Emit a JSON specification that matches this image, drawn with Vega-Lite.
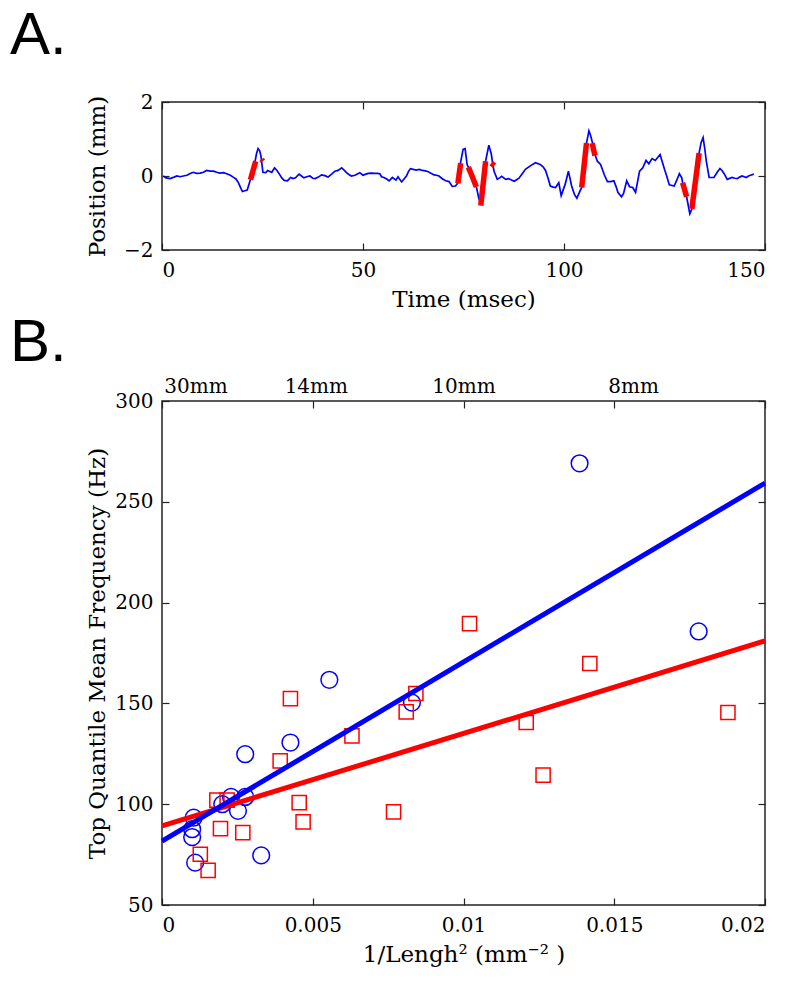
{
  "$schema": "https://vega.github.io/schema/vega-lite/v6.json",
  "background": "white",
  "padding": {"left": 9, "top": 5, "right": 5, "bottom": 5},
  "config": {
    "font": "DejaVu Serif",
    "view": {"stroke": "#222222", "strokeWidth": 1.5},
    "axis": {"domain": false, "grid": false, "labelFont": "DejaVu Serif", "titleFont": "DejaVu Serif", "labelFontSize": 20, "titleFontSize": 23, "labelColor": "#000000", "titleColor": "#000000", "titleFontWeight": "normal", "tickColor": "#222222", "tickSize": -7, "tickWidth": 1.2},
    "title": {"font": "Liberation Sans", "fontSize": 60, "fontWeight": "normal", "anchor": "start", "frame": "group", "baseline": "alphabetic", "color": "#000000"},
    "concat": {"spacing": 0}
  },
  "datasets": {
    "trace": [
      {"t":0.3,"pos":0.0},{"t":1,"pos":-0.05},{"t":2,"pos":-0.07},{"t":3,"pos":-0.03},{"t":3.7,"pos":0},{"t":4.5,"pos":-0.02},{"t":5.3,"pos":0},{"t":6.2,"pos":0.02},{"t":7,"pos":0.07},{"t":7.8,"pos":0.1},{"t":8.6,"pos":0.07},{"t":9.5,"pos":0.08},{"t":10.3,"pos":0.1},{"t":11.1,"pos":0.15},{"t":12,"pos":0.13},{"t":12.8,"pos":0.13},{"t":13.6,"pos":0.1},{"t":14.4,"pos":0.08},{"t":15.3,"pos":0.09},{"t":16.1,"pos":0.06},{"t":17,"pos":0.02},{"t":17.7,"pos":-0.03},{"t":18.4,"pos":-0.08},{"t":19.0,"pos":-0.18},{"t":19.6,"pos":-0.33},{"t":20.0,"pos":-0.42},{"t":20.6,"pos":-0.4},{"t":21.2,"pos":-0.38},{"t":21.7,"pos":-0.2},{"t":22.0,"pos":-0.09},{"t":23.1,"pos":0.36},{"t":23.5,"pos":0.6},{"t":23.9,"pos":0.74},{"t":24.3,"pos":0.68},{"t":24.6,"pos":0.55},{"t":25.1,"pos":0.1},{"t":25.8,"pos":0.09},{"t":26.3,"pos":0.15},{"t":26.7,"pos":0.13},{"t":27.3,"pos":0.1},{"t":28,"pos":0.22},{"t":28.6,"pos":0.15},{"t":29.2,"pos":0.05},{"t":29.8,"pos":-0.05},{"t":30.4,"pos":-0.12},{"t":31.2,"pos":-0.13},{"t":32.0,"pos":-0.04},{"t":32.6,"pos":-0.07},{"t":33.2,"pos":-0.05},{"t":34.1,"pos":0.05},{"t":34.7,"pos":0},{"t":35.3,"pos":-0.05},{"t":36,"pos":-0.02},{"t":36.8,"pos":0},{"t":37.5,"pos":-0.06},{"t":38.1,"pos":-0.07},{"t":38.9,"pos":-0.03},{"t":39.7,"pos":0.03},{"t":40.5,"pos":0.01},{"t":41.3,"pos":-0.03},{"t":42.2,"pos":0.05},{"t":43.0,"pos":0.13},{"t":43.8,"pos":0.15},{"t":44.7,"pos":0.22},{"t":45.3,"pos":0.16},{"t":45.9,"pos":0.09},{"t":46.5,"pos":0.04},{"t":47.1,"pos":0},{"t":48,"pos":0.02},{"t":49.2,"pos":0.09},{"t":50,"pos":0.02},{"t":50.7,"pos":0.05},{"t":51.3,"pos":0.07},{"t":52.1,"pos":0.08},{"t":52.9,"pos":0.07},{"t":53.5,"pos":0.07},{"t":54.2,"pos":0.06},{"t":54.6,"pos":-0.02},{"t":55.2,"pos":-0.04},{"t":55.9,"pos":-0.08},{"t":56.5,"pos":-0.13},{"t":57.3,"pos":-0.04},{"t":58.2,"pos":-0.11},{"t":58.7,"pos":-0.02},{"t":59.6,"pos":-0.16},{"t":60.2,"pos":-0.08},{"t":60.8,"pos":0},{"t":61.3,"pos":0.12},{"t":61.8,"pos":0.2},{"t":62.5,"pos":0.18},{"t":63.2,"pos":0.16},{"t":64,"pos":0.18},{"t":64.8,"pos":0.15},{"t":65.5,"pos":0.14},{"t":66.1,"pos":0.12},{"t":67,"pos":0.07},{"t":67.7,"pos":0.03},{"t":68.3,"pos":0.02},{"t":68.9,"pos":0},{"t":69.8,"pos":-0.08},{"t":70.6,"pos":-0.13},{"t":71.4,"pos":-0.15},{"t":72.2,"pos":-0.28},{"t":73.0,"pos":-0.27},{"t":73.5,"pos":-0.2},{"t":74.2,"pos":0.33},{"t":74.9,"pos":0.72},{"t":75.4,"pos":0.74},{"t":75.9,"pos":0.31},{"t":76.2,"pos":0.24},{"t":77.2,"pos":0.0},{"t":78.2,"pos":-0.29},{"t":78.8,"pos":-0.6},{"t":79.4,"pos":-0.78},{"t":80.0,"pos":-0.2},{"t":80.5,"pos":0.4},{"t":81.3,"pos":0.83},{"t":81.9,"pos":0.6},{"t":82.3,"pos":0.31},{"t":82.6,"pos":0.13},{"t":83.4,"pos":-0.09},{"t":84,"pos":-0.05},{"t":84.5,"pos":-0.01},{"t":85.5,"pos":-0.09},{"t":86.2,"pos":-0.07},{"t":86.8,"pos":-0.1},{"t":87.6,"pos":-0.14},{"t":88.2,"pos":-0.1},{"t":88.8,"pos":-0.06},{"t":89.6,"pos":0.06},{"t":90.4,"pos":0.18},{"t":91.7,"pos":0.28},{"t":92.9,"pos":0.36},{"t":94.1,"pos":0.31},{"t":94.8,"pos":0.25},{"t":95.4,"pos":0.15},{"t":96.0,"pos":-0.05},{"t":96.6,"pos":-0.27},{"t":97.3,"pos":-0.3},{"t":97.9,"pos":-0.31},{"t":98.7,"pos":-0.18},{"t":99.3,"pos":-0.53},{"t":100.3,"pos":-0.22},{"t":101.1,"pos":0.13},{"t":101.9,"pos":-0.27},{"t":102.6,"pos":-0.5},{"t":103.2,"pos":-0.6},{"t":103.8,"pos":-0.45},{"t":104.4,"pos":-0.31},{"t":105.6,"pos":0.89},{"t":106.2,"pos":1.22},{"t":106.6,"pos":1.1},{"t":107.1,"pos":0.89},{"t":107.7,"pos":0.58},{"t":108.3,"pos":0.4},{"t":109.1,"pos":0.31},{"t":110,"pos":0.04},{"t":110.8,"pos":-0.15},{"t":111.6,"pos":-0.15},{"t":112.4,"pos":-0.13},{"t":113.0,"pos":-0.3},{"t":113.4,"pos":-0.44},{"t":114.3,"pos":-0.56},{"t":114.8,"pos":-0.48},{"t":115.6,"pos":-0.13},{"t":116.3,"pos":-0.29},{"t":117.1,"pos":-0.31},{"t":117.8,"pos":-0.44},{"t":118.8,"pos":0.13},{"t":119.6,"pos":0.22},{"t":120.4,"pos":0.42},{"t":121.1,"pos":0.33},{"t":121.9,"pos":0.47},{"t":122.7,"pos":0.42},{"t":123.3,"pos":0.5},{"t":123.9,"pos":0.58},{"t":124.4,"pos":0.4},{"t":125,"pos":0.18},{"t":125.6,"pos":-0.02},{"t":126.2,"pos":-0.24},{"t":127.4,"pos":-0.27},{"t":128.1,"pos":-0.1},{"t":128.7,"pos":0.06},{"t":129.3,"pos":-0.05},{"t":129.5,"pos":-0.18},{"t":130.5,"pos":-0.56},{"t":131.3,"pos":-1.02},{"t":131.8,"pos":-0.89},{"t":133.6,"pos":0.62},{"t":134.1,"pos":0.9},{"t":134.6,"pos":1.04},{"t":135.0,"pos":0.75},{"t":135.4,"pos":0.4},{"t":136.1,"pos":-0.04},{"t":137.3,"pos":-0.04},{"t":138.1,"pos":0.1},{"t":138.8,"pos":0.2},{"t":139.3,"pos":0.15},{"t":139.8,"pos":0.07},{"t":140.6,"pos":-0.09},{"t":141.8,"pos":-0.04},{"t":142.5,"pos":-0.06},{"t":143.1,"pos":-0.07},{"t":143.7,"pos":-0.03},{"t":144.3,"pos":0},{"t":145.3,"pos":-0.04},{"t":145.9,"pos":0},{"t":146.4,"pos":0.02},{"t":147.2,"pos":0.05}
    ],
    "segments": [
      {"seg":1,"t":22.0,"pos":-0.1},{"seg":1,"t":23.3,"pos":0.4},
      {"seg":2,"t":24.75,"pos":0.45},{"seg":2,"t":25.1,"pos":0.4},
      {"seg":3,"t":73.6,"pos":-0.2},{"seg":3,"t":74.3,"pos":0.35},
      {"seg":4,"t":76.2,"pos":0.24},{"seg":4,"t":77.2,"pos":-0.02},{"seg":4,"t":78.2,"pos":-0.3},
      {"seg":5,"t":79.3,"pos":-0.8},{"seg":5,"t":80.5,"pos":0.4},
      {"seg":6,"t":81.9,"pos":0.35},{"seg":6,"t":82.7,"pos":0.28},
      {"seg":7,"t":104.4,"pos":-0.31},{"seg":7,"t":105.6,"pos":0.89},
      {"seg":8,"t":107.0,"pos":0.89},{"seg":8,"t":107.7,"pos":0.55},
      {"seg":9,"t":129.5,"pos":-0.18},{"seg":9,"t":130.5,"pos":-0.56},
      {"seg":10,"t":131.8,"pos":-0.89},{"seg":10,"t":133.6,"pos":0.62}
    ],
    "points": [
      {"group":"G1","x":0.00276,"hz":124.8},{"group":"G1","x":0.00426,"hz":130.6},{"group":"G1","x":0.00105,"hz":93.3},{"group":"G1","x":0.001,"hz":87.6},{"group":"G1","x":0.001,"hz":83.7},{"group":"G1","x":0.0011,"hz":71},{"group":"G1","x":0.002,"hz":100},{"group":"G1","x":0.00229,"hz":103.6},{"group":"G1","x":0.00276,"hz":103.6},{"group":"G1","x":0.00252,"hz":96.7},{"group":"G1","x":0.00329,"hz":74.6},{"group":"G1","x":0.00555,"hz":161.7},{"group":"G1","x":0.00829,"hz":150.4},{"group":"G1","x":0.01385,"hz":269.1},{"group":"G1","x":0.0178,"hz":185.7},
      {"group":"G2","x":0.00392,"hz":121.5},{"group":"G2","x":0.00182,"hz":102},{"group":"G2","x":0.00216,"hz":102},{"group":"G2","x":0.00194,"hz":87.9},{"group":"G2","x":0.00268,"hz":85.9},{"group":"G2","x":0.00127,"hz":75.2},{"group":"G2","x":0.00153,"hz":67.2},{"group":"G2","x":0.00455,"hz":100.8},{"group":"G2","x":0.00468,"hz":91.2},{"group":"G2","x":0.00768,"hz":96.2},{"group":"G2","x":0.00426,"hz":152.4},{"group":"G2","x":0.0063,"hz":133.9},{"group":"G2","x":0.00842,"hz":154.9},{"group":"G2","x":0.0081,"hz":145.8},{"group":"G2","x":0.0102,"hz":189.6},{"group":"G2","x":0.01419,"hz":169.8},{"group":"G2","x":0.01208,"hz":140.5},{"group":"G2","x":0.01264,"hz":114.4},{"group":"G2","x":0.01877,"hz":145.5}
    ],
    "fits": [
      {"group":"G1","x":0,"hz":81.7},{"group":"G1","x":0.02,"hz":259.3},
      {"group":"G2","x":0,"hz":89.2},{"group":"G2","x":0.02,"hz":181}
    ]
  },
  "vconcat": [
    {
      "title": {"text": "A.", "dx": -152, "offset": 25},
      "width": 603,
      "height": 148,
      "layer": [
        {
          "data": {"name": "trace"},
          "mark": {"type": "line", "color": "#0000ff", "strokeWidth": 1.7},
          "encoding": {
            "x": {"field": "t", "type": "quantitative", "scale": {"domain": [0, 150], "nice": false}, "axis": {"values": [0, 50, 100, 150], "title": "Time (msec)", "labelPadding": 17, "titlePadding": 8}},
            "y": {"field": "pos", "type": "quantitative", "scale": {"domain": [-2, 2], "nice": false}, "axis": {"values": [-2, 0, 2], "title": "Position (mm)", "labelPadding": 16, "minExtent": 48, "maxExtent": 48, "titlePadding": 5}}
          }
        },
        {
          "data": {"name": "segments"},
          "mark": {"type": "line", "color": "#ff0000", "strokeWidth": 5.5, "strokeCap": "butt"},
          "encoding": {
            "x": {"field": "t", "type": "quantitative", "axis": {"orient": "top", "values": [0, 50, 100, 150], "labels": false, "title": null}},
            "y": {"field": "pos", "type": "quantitative", "axis": {"orient": "right", "values": [-2, 0, 2], "labels": false, "title": null}},
            "detail": {"field": "seg", "type": "nominal"}
          }
        }
      ],
      "resolve": {"axis": {"x": "independent", "y": "independent"}}
    },
    {
      "title": {"text": "B.", "dx": -152, "offset": 2},
      "width": 603,
      "height": 504,
      "layer": [
        {
          "data": {"name": "points"},
          "mark": {"type": "point", "filled": false, "strokeWidth": 1.5, "opacity": 1},
          "encoding": {
            "x": {"field": "x", "type": "quantitative", "scale": {"domain": [0, 0.02], "nice": false}, "axis": {"values": [0, 0.005, 0.01, 0.015, 0.02], "format": "~g", "title": "1/Lengh² (mm⁻² )", "labelPadding": 17, "titlePadding": 8}},
            "y": {"field": "hz", "type": "quantitative", "scale": {"domain": [50, 300], "nice": false, "zero": false}, "axis": {"values": [50, 100, 150, 200, 250, 300], "title": "Top Quantile Mean Frequency (Hz)", "labelPadding": 16, "minExtent": 48, "maxExtent": 48, "titlePadding": 5}},
            "color": {"field": "group", "type": "nominal", "scale": {"domain": ["G1", "G2"], "range": ["#0000ff", "#ff0000"]}, "legend": null},
            "shape": {"field": "group", "type": "nominal", "scale": {"domain": ["G1", "G2"], "range": ["circle", "square"]}, "legend": null},
            "size": {"field": "group", "type": "nominal", "scale": {"domain": ["G1", "G2"], "range": [280, 200]}, "legend": null}
          }
        },
        {
          "data": {"name": "fits"},
          "transform": [{"filter": "datum.group == 'G2'"}],
          "mark": {"type": "line", "color": "#ff0000", "strokeWidth": 5},
          "encoding": {
            "x": {"field": "x", "type": "quantitative", "axis": {"orient": "top", "values": [0, 0.005, 0.01, 0.015, 0.02], "labels": false, "title": null}},
            "y": {"field": "hz", "type": "quantitative", "axis": {"orient": "right", "values": [50, 100, 150, 200, 250, 300], "labels": false, "title": null}}
          }
        },
        {
          "data": {"name": "fits"},
          "transform": [{"filter": "datum.group == 'G1'"}],
          "mark": {"type": "line", "color": "#0000ff", "strokeWidth": 5},
          "encoding": {
            "x": {"field": "x", "type": "quantitative", "axis": {"orient": "top", "values": [0.0011111, 0.0051020, 0.01, 0.015625], "labelExpr": "datum.value < 0.002 ? '30mm' : datum.value < 0.007 ? '14mm' : datum.value < 0.012 ? '10mm' : '8mm'", "ticks": false, "labelPadding": 5, "title": null}},
            "y": {"field": "hz", "type": "quantitative", "axis": null}
          }
        }
      ],
      "resolve": {"axis": {"x": "independent", "y": "independent"}}
    }
  ]
}
